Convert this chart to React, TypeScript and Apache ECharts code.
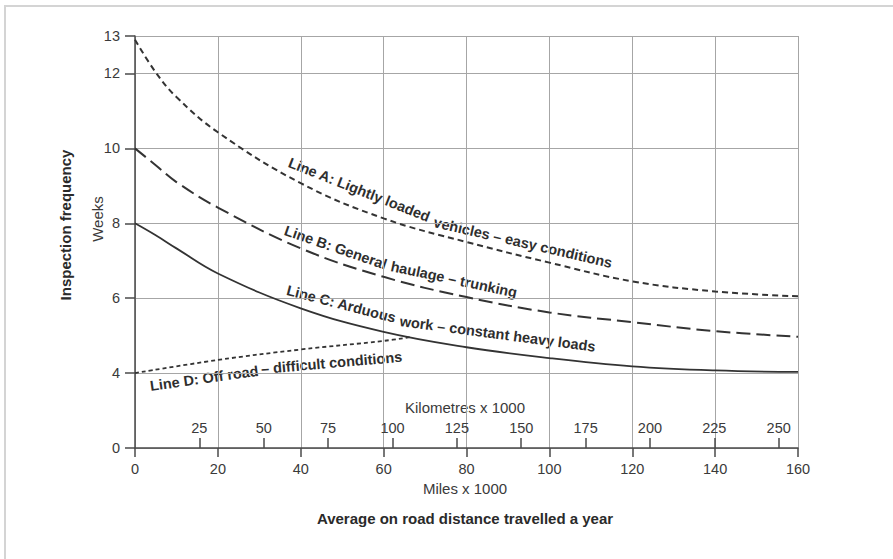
import React, { useEffect, useRef } from "react";
import * as echarts from "echarts";

// ---------- data ----------
const miles = [0, 5, 10, 20, 40, 60, 80, 100, 120, 140, 160];
const lineA = [12.9, 12.03, 11.37, 10.43, 9.07, 8.13, 7.5, 6.95, 6.45, 6.18, 6.05];
const lineB = [10, 9.55, 9.1, 8.42, 7.33, 6.57, 6.03, 5.62, 5.36, 5.12, 4.97];
const lineC = [8, 7.68, 7.33, 6.66, 5.73, 5.1, 4.69, 4.4, 4.18, 4.07, 4.03];
const milesD = [0, 20, 40, 60, 67];
const lineD = [4, 4.35, 4.63, 4.86, 4.97];

const seriesNames = [
  "Line A: Lightly loaded vehicles – easy conditions",
  "Line B: General haulage – trunking",
  "Line C: Arduous work – constant heavy loads",
  "Line D: Off road – difficult conditions",
];

// y axis is broken below 4: the axis bottom (value 2) carries the label "0"
const yBreakBottom = 2;
const yBottomLabel = "0";
const KM_PER_MILE = 1.609344;

const FONT = "'Liberation Sans', Arial, Helvetica, sans-serif";
const TXT = "#3a3a3a";

const pairs = (xs: number[], ys: number[]) => xs.map((x, i) => [x, ys[i]]);

// label pieces: [text, x, y, angleDeg]
const labelPieces: [string, number, number, number][] = [
  ["Line A: Lightly loaded", 289, 162, 21.5],
  ["vehicles – easy conditions", 434, 222, 13],
  ["Line B: General", 285, 230, 19],
  ["haulage – trunking", 391, 266, 12],
  ["Line C: Arduous", 287, 290, 14.5],
  ["work – constant heavy loads", 400, 321, 7.5],
  ["Line D: Off road", 150, 386, -8],
  ["– difficult conditions", 261, 369, -5],
];

export default function App() {
  const ref = useRef<HTMLDivElement>(null);
  useEffect(() => {
    if (!ref.current) return;
    const chart = echarts.init(ref.current, null, { renderer: "svg" });
    const axisLineStyle = { color: "#4a4a4a", width: 1.5 };
    const lineCommon = { type: "line", smooth: 0.4, showSymbol: false };
    const option: any = {
      animation: false,
      backgroundColor: "#ffffff",
      grid: { left: 135, right: 95, top: 36, bottom: 111 },
      xAxis: [
        {
          type: "value",
          min: 0,
          max: 160,
          interval: 20,
          position: "bottom",
          axisLine: { show: true, onZero: false, lineStyle: axisLineStyle },
          axisTick: { show: true, length: 9, lineStyle: axisLineStyle },
          axisLabel: { color: TXT, fontSize: 14.5, fontFamily: FONT, margin: 13 },
          splitLine: { show: true, lineStyle: { color: "#a6a6a6", width: 1 } },
        },
        {
          type: "value",
          min: 0,
          max: 160 * KM_PER_MILE,
          interval: 25,
          position: "bottom",
          axisLine: { show: false },
          axisTick: { show: true, inside: true, length: 10, lineStyle: axisLineStyle },
          axisLabel: {
            inside: true,
            color: TXT,
            fontSize: 14.5,
            fontFamily: FONT,
            margin: 13,
            showMinLabel: false,
            showMaxLabel: false,
          },
          splitLine: { show: false },
        },
      ],
      yAxis: {
        type: "value",
        min: yBreakBottom,
        max: 13,
        interval: 2,
        axisLine: { show: true, onZero: false, lineStyle: axisLineStyle },
        axisTick: { show: true, length: 10, lineStyle: axisLineStyle },
        axisLabel: {
          color: TXT,
          fontSize: 14.5,
          fontFamily: FONT,
          margin: 15,
          formatter: (v: number) => (v === yBreakBottom ? yBottomLabel : String(v)),
        },
        splitLine: { show: true, lineStyle: { color: "#a6a6a6", width: 1 } },
      },
      series: [
        {
          ...lineCommon,
          name: seriesNames[0],
          data: pairs(miles, lineA),
          lineStyle: { color: "#333", width: 2, type: [6, 4] },
        },
        {
          ...lineCommon,
          name: seriesNames[1],
          data: pairs(miles, lineB),
          lineStyle: { color: "#333", width: 2, type: [14, 6] },
        },
        {
          ...lineCommon,
          name: seriesNames[2],
          data: pairs(miles, lineC),
          lineStyle: { color: "#333", width: 1.8, type: "solid" },
        },
        {
          ...lineCommon,
          name: seriesNames[3],
          data: pairs(milesD, lineD),
          lineStyle: { color: "#333", width: 1.8, type: [4, 3] },
        },
      ],
      graphic: [
        {
          type: "polyline",
          shape: { points: [[5, 559], [5, 6], [893, 6]] },
          style: { stroke: "#d4d4d4", lineWidth: 2, fill: "none" },
          silent: true,
        },
        ...labelPieces.map(([t, x, y, a]) => ({
          type: "text",
          x,
          y,
          rotation: (-a * Math.PI) / 180,
          style: {
            text: t,
            fill: "#2e2e2e",
            font: `bold 14.5px ${FONT}`,
            textAlign: "left",
            textVerticalAlign: "middle",
          },
          silent: true,
        })),
        {
          type: "text",
          x: 465,
          y: 407,
          style: { text: "Kilometres x 1000", fill: TXT, font: `15px ${FONT}`, textAlign: "center", textVerticalAlign: "middle" },
        },
        {
          type: "text",
          x: 465,
          y: 488,
          style: { text: "Miles x 1000", fill: TXT, font: `15px ${FONT}`, textAlign: "center", textVerticalAlign: "middle" },
        },
        {
          type: "text",
          x: 465,
          y: 518,
          style: {
            text: "Average on road distance travelled a year",
            fill: "#2a2a2a",
            font: `bold 15px ${FONT}`,
            textAlign: "center",
            textVerticalAlign: "middle",
          },
        },
        {
          type: "text",
          x: 97,
          y: 219,
          rotation: Math.PI / 2,
          style: { text: "Weeks", fill: TXT, font: `15px ${FONT}`, textAlign: "center", textVerticalAlign: "middle" },
        },
        {
          type: "text",
          x: 65,
          y: 225,
          rotation: Math.PI / 2,
          style: {
            text: "Inspection frequency",
            fill: "#2a2a2a",
            font: `bold 15px ${FONT}`,
            textAlign: "center",
            textVerticalAlign: "middle",
          },
        },
      ],
    };
    chart.setOption(option);
    return () => chart.dispose();
  }, []);
  return (
    <div
      ref={ref}
      style={{ position: "fixed", left: 0, top: 0, width: 893, height: 559, background: "#fff" }}
    />
  );
}
